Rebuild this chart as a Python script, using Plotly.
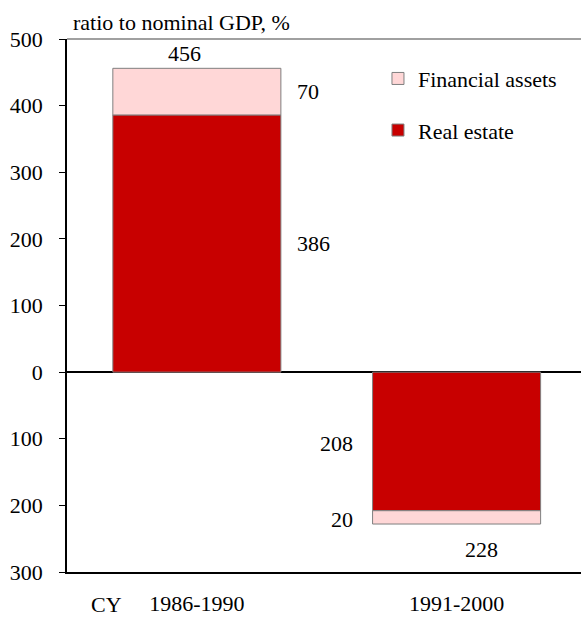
import plotly.graph_objects as go

# Data (ratio to nominal GDP, %)
periods = ["1986-1990", "1991-2000"]
real_estate = [386, -208]
financial_assets = [70, -20]
totals = [456, -228]

y_ticks = [-300, -200, -100, 0, 100, 200, 300, 400, 500]
y_tick_text = [str(abs(v)) for v in y_ticks]  # negative side shown without sign

FONT = "Liberation Serif, Times New Roman, serif"
RED = "#C80000"
PINK = "#FFD7D7"
EDGE = "#7F7F7F"

x_pos = list(range(len(periods)))

fig = go.Figure()
fig.add_trace(go.Bar(
    x=x_pos, y=real_estate, name="Real estate",
    marker=dict(color=RED, line=dict(color=EDGE, width=1)),
    width=0.647, legendgroup="re", legendrank=2,
))
fig.add_trace(go.Bar(
    x=x_pos, y=financial_assets, name="Financial assets",
    marker=dict(color=PINK, line=dict(color=EDGE, width=1)),
    width=0.647, legendgroup="fa", legendrank=1,
))

# value labels
ann = []
txt = dict(family=FONT, size=22, color="black")
# 1986-1990
ann.append(dict(x=x_pos[0] - 0.046, y=totals[0], text=str(totals[0]),
                yanchor="bottom", xanchor="center", yshift=0, showarrow=False, font=txt))
ann.append(dict(x=x_pos[0] + 0.377, y=real_estate[0] + financial_assets[0] / 2,
                text=str(financial_assets[0]), xanchor="left", showarrow=False, font=txt))
ann.append(dict(x=x_pos[0] + 0.377, y=real_estate[0] / 2,
                text=str(real_estate[0]), xanchor="left", showarrow=False, font=txt))
# 1991-2000
ann.append(dict(x=x_pos[1] - 0.392, y=real_estate[1] / 2, yshift=-2,
                text=str(abs(real_estate[1])), xanchor="right", showarrow=False, font=txt))
ann.append(dict(x=x_pos[1] - 0.392, y=real_estate[1] + financial_assets[1] / 2, yshift=-2,
                text=str(abs(financial_assets[1])), xanchor="right", showarrow=False, font=txt))
ann.append(dict(x=x_pos[1] + 0.094, y=totals[1], text=str(abs(totals[1])),
                yanchor="top", xanchor="center", yshift=-11, showarrow=False, font=txt))
# axis title and CY prefix
ann.append(dict(xref="paper", yref="paper", x=0, y=1, xshift=4, yshift=2,
                xanchor="left", yanchor="bottom", text="ratio to nominal GDP, %",
                showarrow=False, font=txt))
ann.append(dict(x=x_pos[0], xshift=-90, yref="paper", y=0, yanchor="top", yshift=-18,
                text="CY", showarrow=False, font=txt))

fig.update_layout(
    width=581, height=617,
    margin=dict(l=67, r=0, t=39, b=45, autoexpand=False),
    paper_bgcolor="white", plot_bgcolor="white",
    barmode="relative",
    font=dict(family=FONT, size=22, color="black"),
    annotations=ann,
    showlegend=True,
    legend=dict(
        x=0.605, y=0.965, xanchor="left", yanchor="top",
        traceorder="grouped", tracegroupgap=20,
        bgcolor="rgba(0,0,0,0)", font=dict(family=FONT, size=22),
    ),
    xaxis=dict(
        tickvals=x_pos, ticktext=periods, range=[-0.5, 1.479],
        showline=True, linecolor="black", linewidth=1.5, automargin=False,
        ticks="", ticklabelstandoff=11, showgrid=False, zeroline=False,
    ),
    yaxis=dict(
        range=[-300, 500], tickvals=y_ticks, ticktext=y_tick_text, automargin=False,
        showline=True, linecolor="black", linewidth=1.5,
        ticks="outside", ticklen=6, tickcolor="black", ticklabelstandoff=12,
        showgrid=False, zeroline=True, zerolinecolor="black", zerolinewidth=1.5,
    ),
    shapes=[dict(type="line", xref="paper", yref="paper", x0=0, x1=1, y0=1, y1=1,
                 line=dict(color="#808080", width=1.5))],
)

# drop the browser's default body margin so the figure sits at the page corner
fig.write_html("out.html", config={"displayModeBar": False},
               post_script="document.body.style.margin='0px';")
